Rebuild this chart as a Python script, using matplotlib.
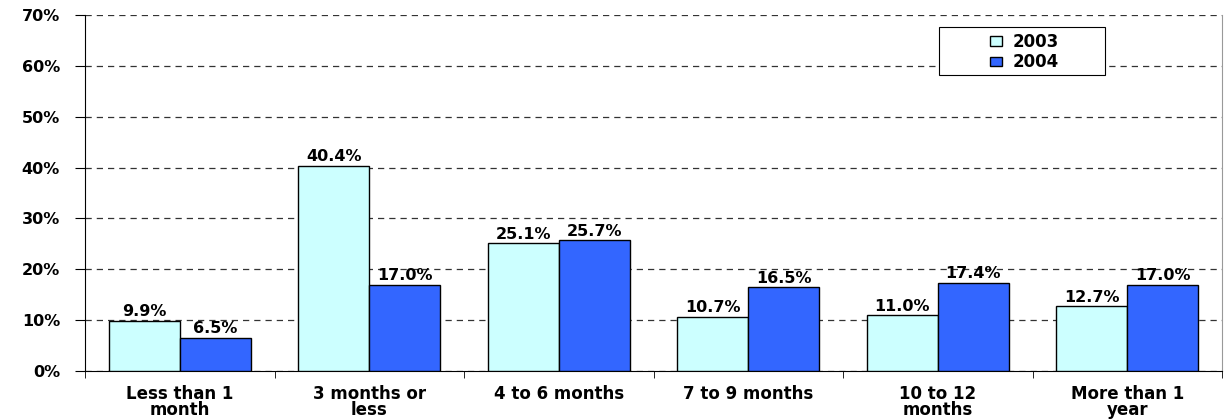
import matplotlib.pyplot as plt
from matplotlib.patches import Rectangle
import numpy as np

categories = ["Less than 1\nmonth", "3 months or\nless", "4 to 6 months",
              "7 to 9 months", "10 to 12\nmonths", "More than 1\nyear"]
vals_2003 = [9.9, 40.4, 25.1, 10.7, 11.0, 12.7]
vals_2004 = [6.5, 17.0, 25.7, 16.5, 17.4, 17.0]
series_names = ["2003", "2004"]

plt.rcParams['font.family'] = ['DejaVu Sans']
plt.rcParams['font.weight'] = 'bold'

fig = plt.figure(figsize=(12.24, 4.19), dpi=100)
ax = fig.add_axes([85 / 1224, 1 - 371 / 419, (1222 - 85) / 1224, (371 - 15) / 419])

x = np.arange(len(categories))
w = 0.375
b1 = ax.bar(x - w / 2, vals_2003, w, color='#CCFFFF', edgecolor='black', linewidth=1, label=series_names[0], zorder=3)
b2 = ax.bar(x + w / 2, vals_2004, w, color='#3366FF', edgecolor='black', linewidth=1, label=series_names[1], zorder=3)

for bars in (b1, b2):
    for r in bars:
        h = r.get_height()
        ax.text(r.get_x() + r.get_width() / 2, h + 0.3, f"{h:.1f}%", ha='center', va='bottom',
                fontsize=11.5, fontweight='bold', zorder=4)

ax.set_xlim(-0.5, len(categories) - 0.5)
ax.set_ylim(0, 70)
ax.set_yticks(np.arange(0, 71, 10))
ax.set_yticklabels([f"{v}%" for v in range(0, 71, 10)], fontsize=11.5, fontweight='bold')
ax.yaxis.grid(True, linestyle=(0, (5, 4)), color='#333333', linewidth=0.9, zorder=0)

ax.set_xticks(x)
ax.set_xticklabels(categories, fontsize=12, fontweight='bold', linespacing=0.9)
ax.tick_params(axis='x', which='major', length=0, pad=10)
ax.set_xticks(np.arange(-0.5, len(categories), 1), minor=True)
ax.tick_params(axis='x', which='minor', length=5, direction='out')
ax.tick_params(axis='y', length=7, direction='out', pad=11)

ax.spines['top'].set_visible(False)
ax.spines['right'].set_color('#999999')
ax.spines['left'].set_color('black')
ax.spines['bottom'].set_color('black')

# legend box
ax.add_patch(Rectangle(((939 - 85) / 1137, (371 - 75) / 356), 166 / 1137, 48 / 356,
                       transform=ax.transAxes, facecolor='white', edgecolor='black',
                       linewidth=0.8, zorder=5))
leg = ax.legend(loc='center', bbox_to_anchor=(0.826, 0.896), fontsize=12,
                frameon=False, handlelength=0.75, handleheight=0.5, handletextpad=0.6,
                borderpad=0.1, labelspacing=0.15)
leg.set_zorder(6)
for t in leg.get_texts():
    t.set_fontweight('bold')

fig.savefig('out.png', dpi=100)
